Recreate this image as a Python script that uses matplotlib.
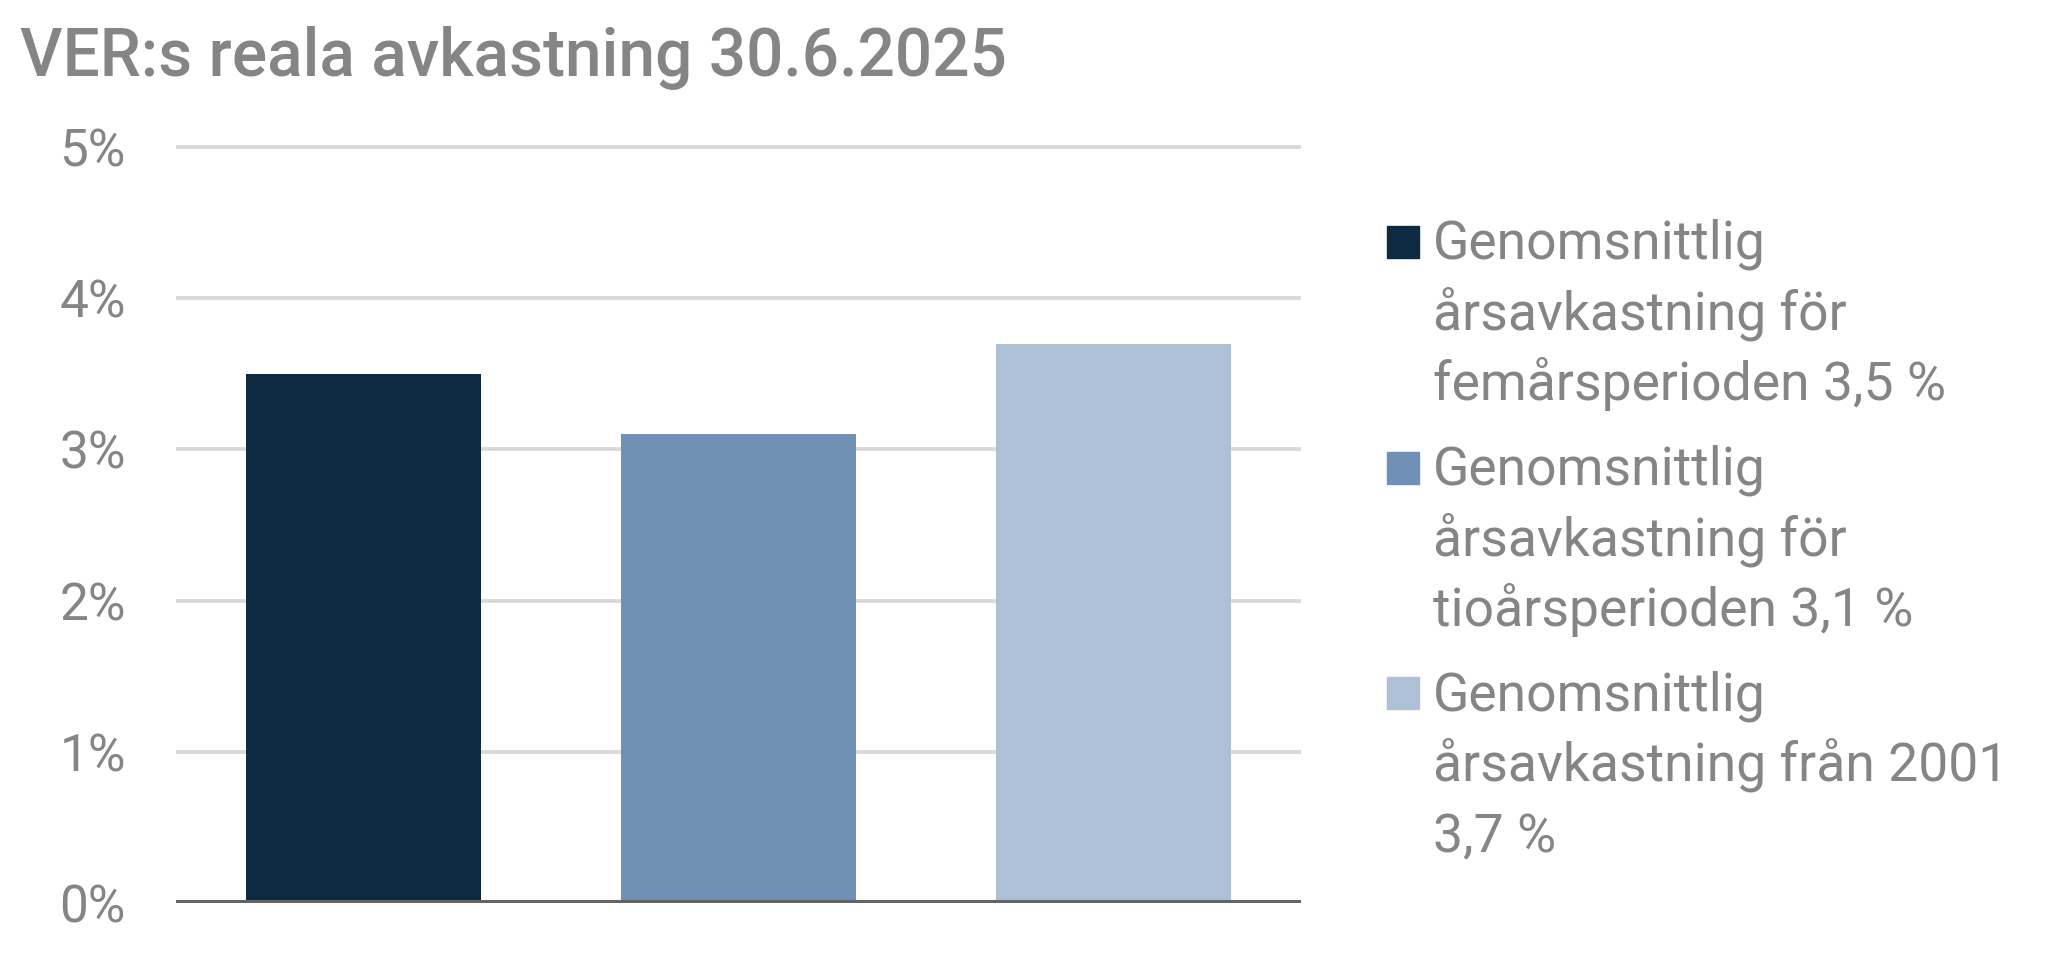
import matplotlib.pyplot as plt
from matplotlib.patches import Rectangle

title = "VER:s reala avkastning 30.6.2025"
values = [3.5, 3.1, 3.7]
colors = ["#0e2a40", "#7091b5", "#adc0d6"]
labels = [
    "Genomsnittlig\nårsavkastning för\nfemårsperioden 3,5 %",
    "Genomsnittlig\nårsavkastning för\ntioårsperioden 3,1 %",
    "Genomsnittlig\nårsavkastning från 2001\n3,7 %",
]
yticks = [0, 1, 2, 3, 4, 5]

W, H = 2059, 959
text_gray = "#858585"
plt.rcParams["font.family"] = ["Roboto", "DejaVu Sans"]

fig = plt.figure(figsize=(W / 100, H / 100), dpi=100)
ax = fig.add_axes([176 / W, 56 / H, 1125 / W, 5.02 * 151.2 / H])

x = range(len(values))
ax.bar(x, values, width=0.625, color=colors, zorder=3)
ax.set_xlim(-0.5, len(values) - 0.5)
ax.set_ylim(0, 5.02)

ax.set_yticks(yticks)
ax.set_yticklabels([f"{t}%" for t in yticks])
ax.tick_params(axis="y", length=0, pad=36, labelsize=37, labelcolor=text_gray)
ax.set_xticks([])
for s in ax.spines.values():
    s.set_visible(False)
for t in yticks[1:]:
    ax.axhline(t, color="#d9d9d9", lw=2.8, zorder=1)
ax.axhline(0, color="#646464", lw=4.4, zorder=4)

fig.text(20 / W, 1 - 76 / H, title, fontsize=47.3, fontweight="medium",
         color=text_gray, va="baseline", ha="left")

# legend, drawn by hand to match the line spacing
line_h = 70.6
group_h = 225.7
for i, (lab, c) in enumerate(zip(labels, colors)):
    top = 226 + i * group_h
    fig.patches.append(Rectangle((1387 / W, 1 - (top + 32) / H), 32 / W, 32 / H,
                                 transform=fig.transFigure, color=c))
    for j, line in enumerate(lab.split("\n")):
        base = 259 + i * group_h + j * line_h
        fig.text(1433 / W, 1 - base / H, line, fontsize=38.5, color=text_gray,
                 va="baseline", ha="left")

fig.savefig("out.png", dpi=100)
